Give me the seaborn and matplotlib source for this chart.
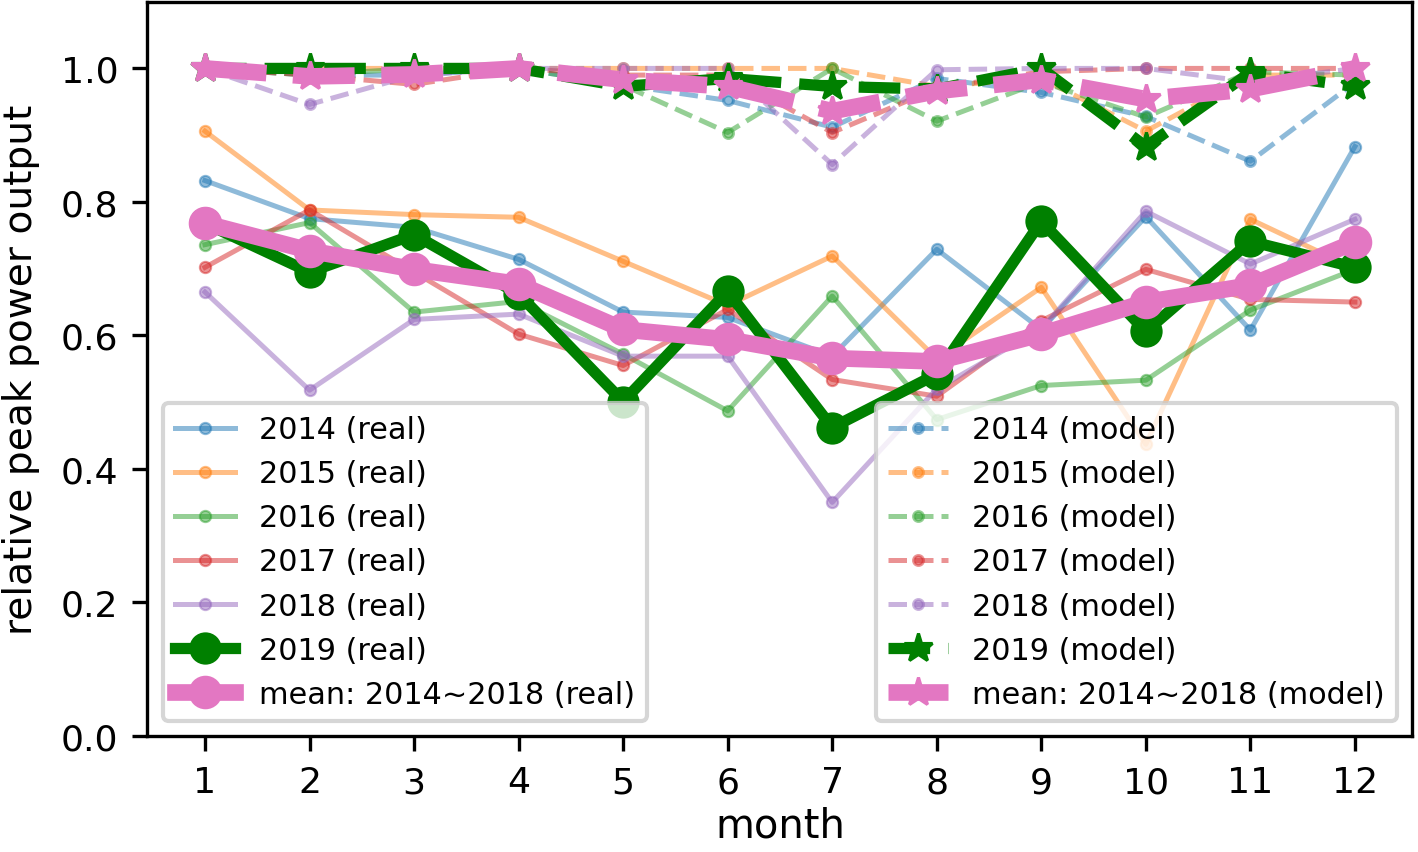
import numpy as np
import pandas as pd
import matplotlib
matplotlib.use("Agg")
import matplotlib.pyplot as plt
import seaborn as sns

# ==========================================
# DATA
# ==========================================

months = list(range(1, 13))
years = [2014, 2015, 2016, 2017, 2018]

real_2014 = [0.832, 0.775, 0.762, 0.714, 0.635, 0.627, 0.569, 0.729, 0.609, 0.778, 0.608, 0.883]
real_2015 = [0.906, 0.788, 0.781, 0.777, 0.711, 0.645, 0.719, 0.565, 0.672, 0.437, 0.774, 0.700]
real_2016 = [0.736, 0.769, 0.635, 0.651, 0.572, 0.487, 0.659, 0.474, 0.525, 0.533, 0.638, 0.699]
real_2017 = [0.702, 0.788, 0.695, 0.602, 0.555, 0.639, 0.534, 0.509, 0.622, 0.699, 0.654, 0.650]
real_2018 = [0.665, 0.518, 0.624, 0.632, 0.569, 0.569, 0.350, 0.520, 0.610, 0.786, 0.707, 0.774]
real_2019 = [0.768, 0.695, 0.751, 0.662, 0.501, 0.666, 0.462, 0.542, 0.771, 0.606, 0.741, 0.702]
real_mean = [0.768, 0.727, 0.699, 0.677, 0.609, 0.594, 0.566, 0.561, 0.602, 0.650, 0.675, 0.740]

model_2014 = [1.000, 0.990, 0.990, 1.000, 0.975, 0.952, 0.912, 0.985, 0.964, 0.928, 0.861, 0.979]
model_2015 = [1.000, 1.000, 1.000, 1.000, 1.000, 1.000, 1.000, 0.973, 0.985, 0.906, 0.990, 0.990]
model_2016 = [1.000, 0.990, 1.000, 1.000, 0.975, 0.904, 1.000, 0.921, 0.980, 0.927, 0.995, 0.990]
model_2017 = [1.000, 0.990, 0.976, 1.000, 0.990, 0.990, 0.904, 0.970, 0.995, 1.000, 1.000, 1.000]
model_2018 = [1.000, 0.946, 0.990, 1.000, 1.000, 1.000, 0.856, 0.998, 1.000, 1.000, 0.980, 1.000]
model_2019 = [1.000, 1.000, 1.000, 1.000, 0.973, 0.985, 0.973, 0.969, 1.000, 0.883, 0.994, 0.973]
model_mean = [1.000, 0.988, 0.991, 1.000, 0.983, 0.973, 0.936, 0.966, 0.983, 0.954, 0.969, 1.000]

real_years = [real_2014, real_2015, real_2016, real_2017, real_2018]
model_years = [model_2014, model_2015, model_2016, model_2017, model_2018]
year_colors = ["C0", "C1", "C2", "C3", "C4"]

# ==========================================
# PLOT
# ==========================================

fig, ax = plt.subplots(figsize=(4.727, 2.843), dpi=300)

# real, single years
for yr, vals, col in zip(years, real_years, year_colors):
    sns.lineplot(x=months, y=vals, ax=ax, color=col, alpha=0.5, linewidth=1.2,
                 marker="o", markersize=2.7, markeredgecolor=col, markeredgewidth=0.5,
                 label=f"{yr} (real)")

sns.lineplot(x=months, y=real_2019, ax=ax, color="green", linewidth=2.7,
             marker="o", markersize=7, markeredgecolor="green",
             label="2019 (real)")
sns.lineplot(x=months, y=real_mean, ax=ax, color="C6", linewidth=4,
             marker="o", markersize=7.3, markeredgecolor="C6",
             label="mean: 2014~2018 (real)")

# model, single years
for yr, vals, col in zip(years, model_years, year_colors):
    sns.lineplot(x=months, y=vals, ax=ax, color=col, alpha=0.5, linewidth=1.2,
                 linestyle="--", marker=".", markersize=4.7, markeredgecolor=col,
                 label=f"{yr} (model)")

sns.lineplot(x=months, y=model_2019, ax=ax, color="green", linewidth=2.7,
             linestyle="--", marker="*", markersize=7.3, markeredgecolor="green",
             label="2019 (model)")
sns.lineplot(x=months, y=model_mean, ax=ax, color="C6", linewidth=4,
             linestyle="--", marker="*", markersize=7.3, markeredgecolor="C6",
             label="mean: 2014~2018 (model)")

ax.set_ylim(0, 1.1)
ax.set_xticks(months)
ax.set_yticks([0.0, 0.2, 0.4, 0.6, 0.8, 1.0])
ax.tick_params(labelsize=8.7)
ax.set_xlabel("month", fontsize=9.6, labelpad=1.5)
ax.set_ylabel("relative peak power output", fontsize=9.4, labelpad=5)

# two legends: real on the left, model on the right
handles, labels = ax.get_legend_handles_labels()
leg1 = ax.legend(handles[:7], labels[:7], loc="lower left", fontsize=7.25)
ax.add_artist(leg1)
ax.legend(handles[7:], labels[7:], loc="lower right", fontsize=7.25)

fig.subplots_adjust(left=0.104, right=0.996, bottom=0.136, top=0.997)
fig.savefig("out.png")
